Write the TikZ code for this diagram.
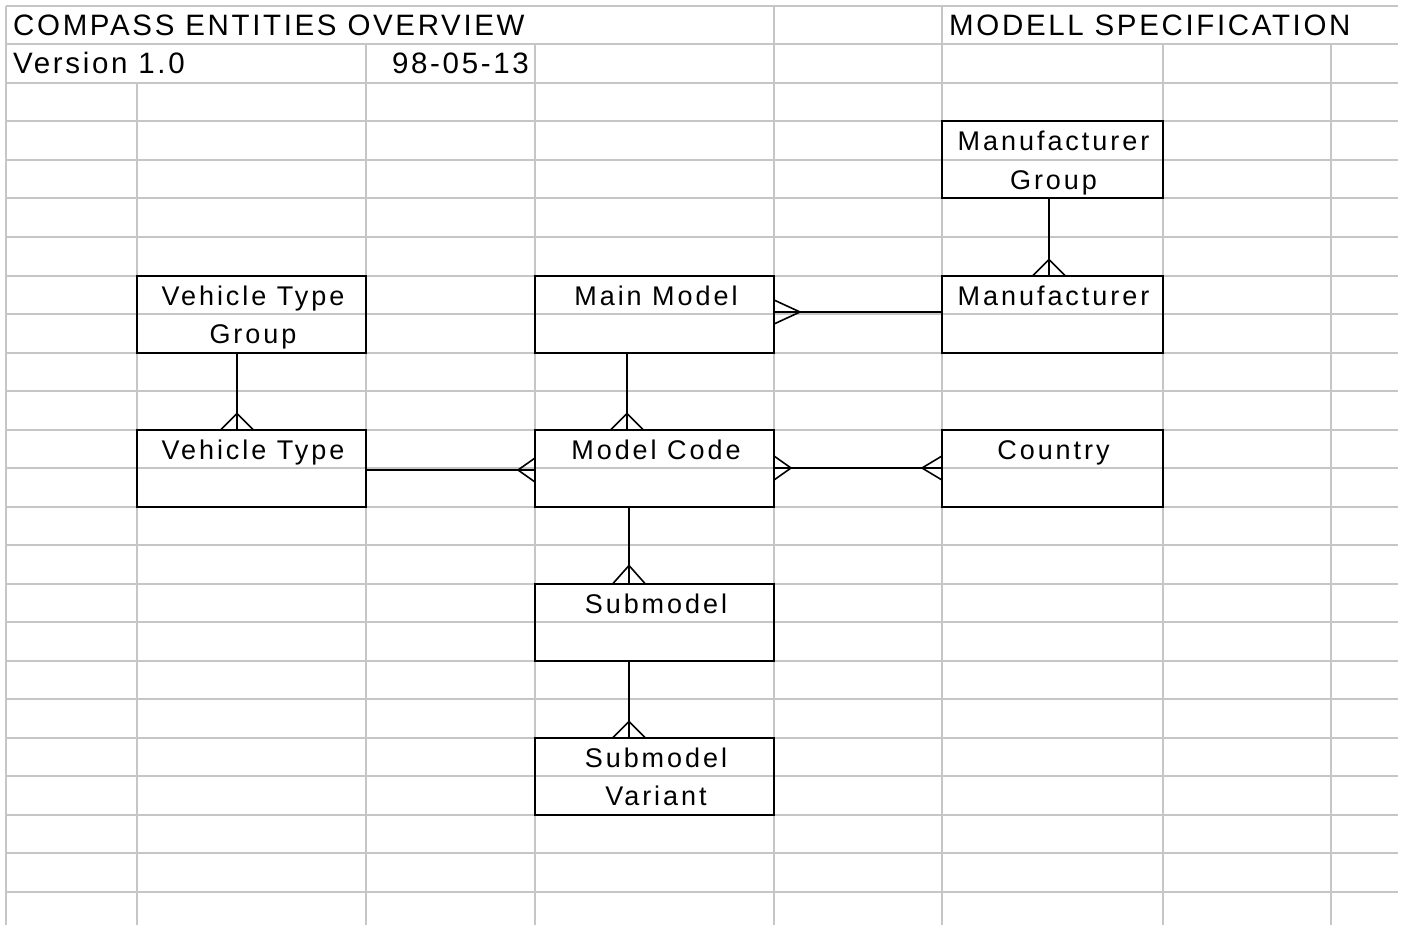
\documentclass[tikz,border=0pt]{standalone}
\usepackage{fontspec}
\setmainfont{Liberation Sans}
\newfontfamily\boxfont[LetterSpace=11]{Liberation Sans}
\newfontfamily\headfont[LetterSpace=9]{Liberation Sans}
\usetikzlibrary{calc}
\definecolor{gridgray}{HTML}{C6C6C6}
\begin{document}
\begin{tikzpicture}[x=1pt,y=-1pt,
  gridline/.style={draw=gridgray,line width=2pt},
  ent/.style={draw=black,line width=2pt,rectangle,inner sep=0pt,outer sep=0pt,anchor=north west},
  lbl/.style={inner sep=0pt,anchor=base,font=\boxfont\fontsize{27}{30}\selectfont},
  hdr/.style={inner sep=0pt,font=\headfont\fontsize{29.5}{32}\selectfont},
  conn/.style={draw=black,line width=2pt},
  foot/.style={draw=black,line width=1.6pt}]
\useasboundingbox[fill=white] (0,0) rectangle (1404,925);
% grid
\foreach \k in {0,...,23}{
  \draw[gridline] (6,{6+38.5*\k}) -- (1398,{6+38.5*\k});
}
\draw[gridline] (6,6) -- (6,925);
\draw[gridline] (137,83) -- (137,925);
\draw[gridline] (366,44.5) -- (366,925);
\draw[gridline] (535,44.5) -- (535,925);
\draw[gridline] (774,6) -- (774,925);
\draw[gridline] (942,6) -- (942,925);
\draw[gridline] (1163,44.5) -- (1163,925);
\draw[gridline] (1331,44.5) -- (1331,925);
% header texts
\node[hdr,anchor=base west] (title) at (13,36) {COMPASS ENTITIES OVERVIEW};
\node[hdr,anchor=base west] (version) at (13,74) {Version 1.0};
\node[hdr,anchor=base east] (date) at (529,74) {98-05-13};
\node[hdr,anchor=base west] (spec) at (949,36) {MODELL SPECIFICATION};
% entities
\node[ent,minimum width=221pt,minimum height=77pt] (mg) at (942,121.5) {};
\node[ent,minimum width=229pt,minimum height=77pt] (vtg) at (137,275.5) {};
\node[ent,minimum width=239pt,minimum height=77pt] (mm) at (535,275.5) {};
\node[ent,minimum width=221pt,minimum height=77pt] (mf) at (942,275.5) {};
\node[ent,minimum width=229pt,minimum height=77pt] (vt) at (137,429.5) {};
\node[ent,minimum width=239pt,minimum height=77pt] (mc) at (535,429.5) {};
\node[ent,minimum width=221pt,minimum height=77pt] (co) at (942,429.5) {};
\node[ent,minimum width=239pt,minimum height=77pt] (sm) at (535,583.5) {};
\node[ent,minimum width=239pt,minimum height=77pt] (sv) at (535,737.5) {};
% labels
\node[lbl] (mgA) at (1053.5,151) {Manufacturer};
\node[lbl] (mgB) at (1053.5,189.5) {Group};
\node[lbl] (vtgA) at (253,305) {Vehicle Type};
\node[lbl] (vtgB) at (253,343.5) {Group};
\node[lbl] (mmA) at (656,305) {Main Model};
\node[lbl] (mfA) at (1053.5,305) {Manufacturer};
\node[lbl] (vtA) at (253,459) {Vehicle Type};
\node[lbl] (mcA) at (656,459) {Model Code};
\node[lbl] (coA) at (1053.5,459) {Country};
\node[lbl] (smA) at (656,613) {Submodel};
\node[lbl] (svA) at (656,767) {Submodel};
\node[lbl] (svB) at (656,805.5) {Variant};
% vertical connectors with crow's foot at lower end
\draw[conn] ([xshift=-3.5pt]mg.south) -- ([xshift=-3.5pt]mf.north);
\draw[foot] ([xshift=-19.5pt]mf.north) -- ([xshift=-3.5pt,yshift=16pt]mf.north) -- ([xshift=12.5pt]mf.north);
\draw[conn] ([xshift=-14.5pt]vtg.south) -- ([xshift=-14.5pt]vt.north);
\draw[foot] ([xshift=-30.5pt]vt.north) -- ([xshift=-14.5pt,yshift=16pt]vt.north) -- ([xshift=1.5pt]vt.north);
\draw[conn] ([xshift=-27.5pt]mm.south) -- ([xshift=-27.5pt]mc.north);
\draw[foot] ([xshift=-43.5pt]mc.north) -- ([xshift=-27.5pt,yshift=16pt]mc.north) -- ([xshift=-11.5pt]mc.north);
\draw[conn] ([xshift=-25.5pt]mc.south) -- ([xshift=-25.5pt]sm.north);
\draw[foot] ([xshift=-41.5pt]sm.north) -- ([xshift=-25.5pt,yshift=18pt]sm.north) -- ([xshift=-9.5pt]sm.north);
\draw[conn] ([xshift=-25.5pt]sm.south) -- ([xshift=-25.5pt]sv.north);
\draw[foot] ([xshift=-41.5pt]sv.north) -- ([xshift=-25.5pt,yshift=16pt]sv.north) -- ([xshift=-9.5pt]sv.north);
% horizontal connectors
\draw[conn] ([yshift=2pt]mm.east) -- ([yshift=2pt]mf.west);
\draw[foot] ([yshift=14pt]mm.east) -- ([xshift=26pt,yshift=2pt]mm.east) -- ([yshift=-10pt]mm.east);
\draw[conn] ([yshift=-2pt]vt.east) -- ([yshift=-2pt]mc.west);
\draw[foot] ([yshift=10pt]mc.west) -- ([xshift=-17pt,yshift=-2pt]mc.west) -- ([yshift=-14pt]mc.west);
\draw[conn] (mc.east) -- (co.west);
\draw[foot] ([yshift=12pt]mc.east) -- ([xshift=17pt]mc.east) -- ([yshift=-12pt]mc.east);
\draw[foot] ([yshift=12pt]co.west) -- ([xshift=-20pt]co.west) -- ([yshift=-12pt]co.west);
\end{tikzpicture}
\end{document}
